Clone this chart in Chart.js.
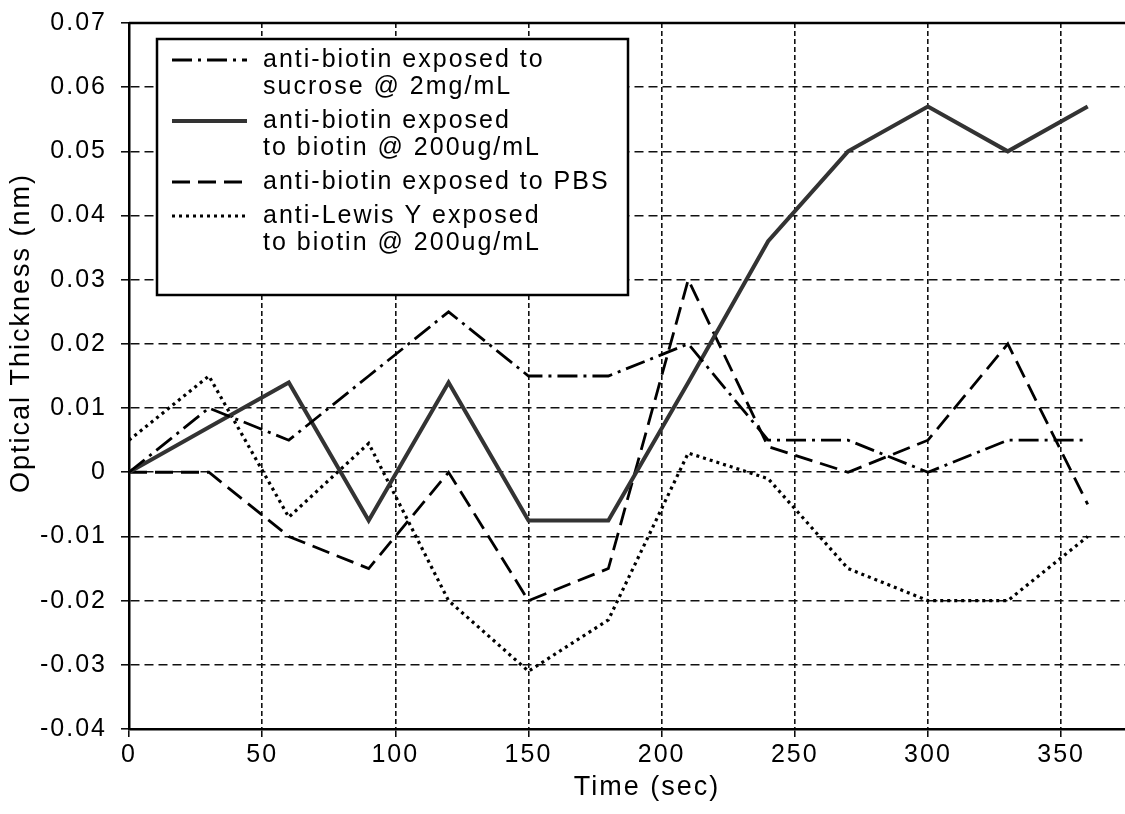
<!DOCTYPE html>
<html>
<head>
<meta charset="utf-8">
<script src="https://cdn.jsdelivr.net/npm/chart.js@4.4.1/dist/chart.umd.min.js"></script>
<style>
  html, body { margin: 0; padding: 0; background: #fff; }
  canvas { display: block; }
</style>
</head>
<body>
<canvas id="grafico" width="1125" height="814"></canvas>
<script>
// tempos de medida (s)
const tempos = [0, 30, 60, 90, 120, 150, 180, 210, 240, 270, 300, 330, 360];

// espessura optica (nm)
const sacarose = [0, 0.010, 0.005, 0.015, 0.025, 0.015, 0.015, 0.020, 0.005, 0.005, 0.000, 0.005, 0.005];
const biotina  = [0, 0.007, 0.014, -0.0075, 0.014, -0.0075, -0.0075, 0.014, 0.036, 0.050, 0.057, 0.050, 0.057];
const pbs      = [0, 0, -0.010, -0.015, 0, -0.020, -0.015, 0.030, 0.004, 0, 0.005, 0.020, -0.005];
const lewisY   = [0.005, 0.015, -0.007, 0.0045, -0.020, -0.031, -0.023, 0.003, -0.001, -0.015, -0.020, -0.020, -0.010];

const legendas = [
  ["anti-biotin exposed to", "sucrose @ 2mg/mL"],
  ["anti-biotin exposed", "to biotin @ 200ug/mL"],
  ["anti-biotin exposed to PBS"],
  ["anti-Lewis Y exposed", "to biotin @ 200ug/mL"]
];

const tituloX = "Time (sec)";
const tituloY = "Optical Thickness (nm)";

const fonte = "Liberation Sans, Arial, Helvetica, sans-serif";

function pontos(serie) {
  return tempos.map((t, i) => ({ x: t, y: serie[i] }));
}

// legenda, moldura de cima e titulos dos eixos
const decoracao = {
  id: "decoracao",
  beforeDraw(chart) {
    chart.ctx.letterSpacing = "2px";
  },
  afterDraw(chart) {
    const ctx = chart.ctx;
    const ca = chart.chartArea;
    ctx.save();
    ctx.letterSpacing = "2px";

    // linha de cima
    ctx.strokeStyle = "#000";
    ctx.lineWidth = 2.5;
    ctx.setLineDash([]);
    ctx.beginPath();
    ctx.moveTo(ca.left, ca.top);
    ctx.lineTo(ca.right, ca.top);
    ctx.stroke();

    // caixa da legenda
    const bx = ca.left + 28, by = ca.top + 16, bw = 471, bh = 256;
    ctx.fillStyle = "#fff";
    ctx.fillRect(bx, by, bw, bh);
    ctx.lineWidth = 2.5;
    ctx.strokeRect(bx, by, bw, bh);

    ctx.font = "25px " + fonte;
    ctx.fillStyle = "#000";
    ctx.textAlign = "left";
    ctx.textBaseline = "middle";
    let y = by + 21;
    chart.data.datasets.forEach((ds, i) => {
      ctx.save();
      ctx.strokeStyle = ds.borderColor;
      ctx.lineWidth = ds.borderWidth;
      ctx.setLineDash(ds.borderDash || []);
      ctx.beginPath();
      ctx.moveTo(bx + 15, y);
      ctx.lineTo(bx + 90, y);
      ctx.stroke();
      ctx.restore();
      legendas[i].forEach((linha, j) => {
        ctx.fillText(linha, bx + 106, y + j * 27);
      });
      y += legendas[i].length * 27 + 7;
    });

    // titulos
    ctx.font = "27px " + fonte;
    ctx.textAlign = "center";
    ctx.fillText(tituloX, 647, 788);
    ctx.save();
    ctx.translate(22, 333);
    ctx.rotate(-Math.PI / 2);
    ctx.fillText(tituloY, 0, 0);
    ctx.restore();

    ctx.restore();
  }
};

const ctx = document.getElementById("grafico").getContext("2d");

new Chart(ctx, {
  type: "line",
  data: {
    datasets: [
      {
        label: legendas[0].join(" "),
        data: pontos(sacarose),
        borderColor: "#000",
        borderWidth: 2.8,
        borderDash: [20, 6, 3, 6]
      },
      {
        label: legendas[1].join(" "),
        data: pontos(biotina),
        borderColor: "#333",
        borderWidth: 4
      },
      {
        label: legendas[2].join(" "),
        data: pontos(pbs),
        borderColor: "#000",
        borderWidth: 2.8,
        borderDash: [18, 8]
      },
      {
        label: legendas[3].join(" "),
        data: pontos(lewisY),
        borderColor: "#000",
        borderWidth: 3.2,
        borderDash: [3, 4]
      }
    ]
  },
  options: {
    responsive: false,
    animation: false,
    devicePixelRatio: 1,
    layout: { padding: { top: 23, right: -5, left: 0, bottom: 0 } },
    elements: {
      point: { radius: 0 },
      line: { tension: 0, fill: false }
    },
    plugins: {
      legend: { display: false },
      tooltip: { enabled: false }
    },
    scales: {
      x: {
        type: "linear",
        min: 0,
        max: 374,
        afterFit(scale) { scale.height = 85; },
        ticks: {
          stepSize: 50,
          includeBounds: false,
          color: "#000",
          padding: 3,
          font: { family: fonte, size: 25 }
        },
        grid: {
          color: "#111",
          lineWidth: 1.6,
          tickLength: 8,
          tickColor: "#000",
          tickWidth: 1.5,
          tickBorderDash: []
        },
        border: { color: "#000", width: 2.5, dash: [5, 3] }
      },
      y: {
        min: -0.04,
        max: 0.07,
        afterFit(scale) { scale.width = 129; },
        ticks: {
          stepSize: 0.01,
          includeBounds: false,
          color: "#000",
          padding: 14,
          font: { family: fonte, size: 25, lineHeight: 0.2 },
          callback: v => String(parseFloat(v.toFixed(2)))
        },
        grid: {
          color: "#111",
          lineWidth: 1.6,
          tickLength: 8,
          tickColor: "#000",
          tickWidth: 1.5,
          tickBorderDash: []
        },
        border: { color: "#000", width: 2.5, dash: [9, 5] }
      }
    }
  },
  plugins: [decoracao]
});
</script>
</body>
</html>
